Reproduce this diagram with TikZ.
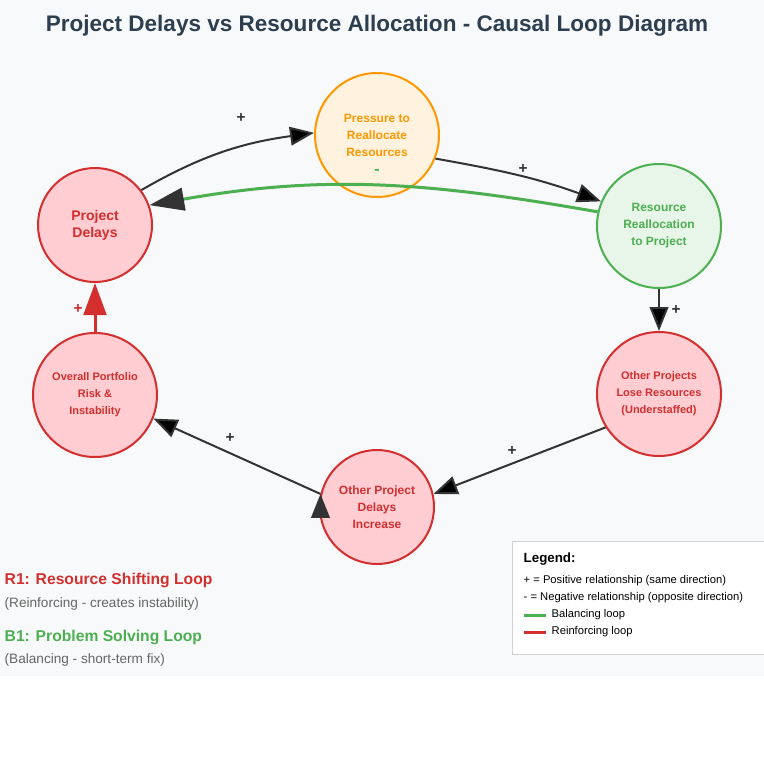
\documentclass[tikz,border=0pt]{standalone}
\usepackage{fontspec}
\setmainfont{Liberation Sans}
\usetikzlibrary{arrows.meta}

\definecolor{pagebg}{HTML}{F8F9FA}
\definecolor{titlecol}{HTML}{2C3E50}
\definecolor{darkline}{HTML}{333333}
\definecolor{redline}{HTML}{D32F2F}
\definecolor{redfill}{HTML}{FFCDD2}
\definecolor{orangeline}{HTML}{FF9800}
\definecolor{orangefill}{HTML}{FFF3E0}
\definecolor{greenline}{HTML}{4CAF50}
\definecolor{greenfill}{HTML}{E8F5E9}
\definecolor{greytext}{HTML}{666666}

\begin{document}
\begin{tikzpicture}[x=0.75pt,y=0.75pt,
                    >={Triangle[length=18pt,width=14pt]},
                    node distance=126pt,
                    loop node/.style={circle,draw,line width=1.5pt,align=center,inner sep=0pt,
                                      font=\bfseries\fontsize{9}{12.75}\selectfont},
                    red node/.style={loop node,draw=redline,fill=redfill,text=redline,minimum size=93pt},
                    link/.style={->,draw=darkline,line width=1.5pt},
                    sign/.style={font=\bfseries\fontsize{11.5}{12}\selectfont,text=darkline},
                    legend text/.style={anchor=west,font=\fontsize{8.4}{10}\selectfont,text=black}]
  \useasboundingbox (0,0) rectangle (764,-760);
  \fill[white] (0,0) rectangle (764,-760);
  \fill[pagebg] (0,0) rectangle (764,-676);

  \node[font=\bfseries\fontsize{16.9}{20}\selectfont,text=titlecol] (title) at (377,-26)
    {Project Delays vs Resource Allocation - Causal Loop Diagram};

  % the loop
  \node[red node,minimum size=85.5pt,font=\bfseries\fontsize{10.5}{12.75}\selectfont] (pd) at (95,-225) {Project\\Delays};
  \node[loop node,draw=orangeline,fill=orangefill,text=orangeline,minimum size=93pt] (pr) at (377,-135)
    {Pressure to\\Reallocate\\Resources};
  \node[loop node,draw=greenline,fill=greenfill,text=greenline,minimum size=93pt] (rr) at (659,-226)
    {Resource\\Reallocation\\to Project};
  \node[red node,font=\bfseries\fontsize{8.25}{12.75}\selectfont] (oplr) [below of=rr,node distance=126pt]
    {Other Projects\\Lose Resources\\(Understaffed)};
  \node[red node,minimum size=85.5pt] (opdi) at (377,-507) {Other Project\\Delays\\Increase};
  \node[red node,font=\bfseries\fontsize{8.25}{12.75}\selectfont] (ov) [below of=pd,node distance=127.5pt]
    {Overall Portfolio\\Risk \&\\Instability};
  \node[font=\bfseries\fontsize{12}{12}\selectfont,text=greenline] (minus) at (377,-172) {-};

  \path[link]
    (pd.37) edge[out=30,in=188] (pr.178)
    (pr.-22) edge[out=-10,in=160] (rr.157)
    (rr) edge (oplr)
    (oplr.212) edge (opdi.13)
    (opdi.167) edge (ov.-22);
  \draw[draw=greenline,line width=2.25pt,-{Triangle[length=26pt,width=17pt,color=darkline]}]
    (rr.167) to[out=170,in=10] (pd.20);
  \draw[draw=redline,line width=2.25pt,-{Triangle[length=24pt,width=17pt]}] (ov) -- (pd);

  \node[sign] (s1) at (241,-118) {+};
  \node[sign] (s2) at (523,-169) {+};
  \node[sign] (s3) at (676,-310) {+};
  \node[sign] (s4) at (512,-451) {+};
  \node[sign] (s5) at (230,-438) {+};
  \node[sign,text=redline] (s6) at (78,-309) {+};

  % loop names
  \node[anchor=west,font=\bfseries\fontsize{11.75}{14}\selectfont,text=redline] (r1) at (0,-580) {R1: Resource Shifting Loop};
  \node[anchor=west,font=\fontsize{10.2}{12}\selectfont,text=greytext] (r1sub) at (0,-604) {(Reinforcing - creates instability)};
  \node[anchor=west,font=\bfseries\fontsize{11.75}{14}\selectfont,text=greenline] (b1) at (0,-637) {B1: Problem Solving Loop};
  \node[anchor=west,font=\fontsize{10.2}{12}\selectfont,text=greytext] (b1sub) at (0,-660) {(Balancing - short-term fix)};

  % legend
  \draw[fill=white,draw=black!18,line width=0.75pt] (512,-541) rectangle (780,-654);
  \node[anchor=west,font=\bfseries\fontsize{10}{12}\selectfont] (leg) at (519,-559) {Legend:};
  \node[legend text] (lpos) at (519,-581) {+ = Positive relationship (same direction)};
  \node[legend text] (lneg) at (519,-598) {- = Negative relationship (opposite direction)};
  \coordinate (gl) at (524,-615);
  \coordinate (rl) at (524,-632);
  \draw[greenline,line width=2.25pt] (gl) -- ++(22,0);
  \draw[redline,line width=2.25pt] (rl) -- ++(22,0);
  \node[legend text] (lbal) at (547,-615) {Balancing loop};
  \node[legend text] (lrei) at (547,-632) {Reinforcing loop};
\end{tikzpicture}
\end{document}
